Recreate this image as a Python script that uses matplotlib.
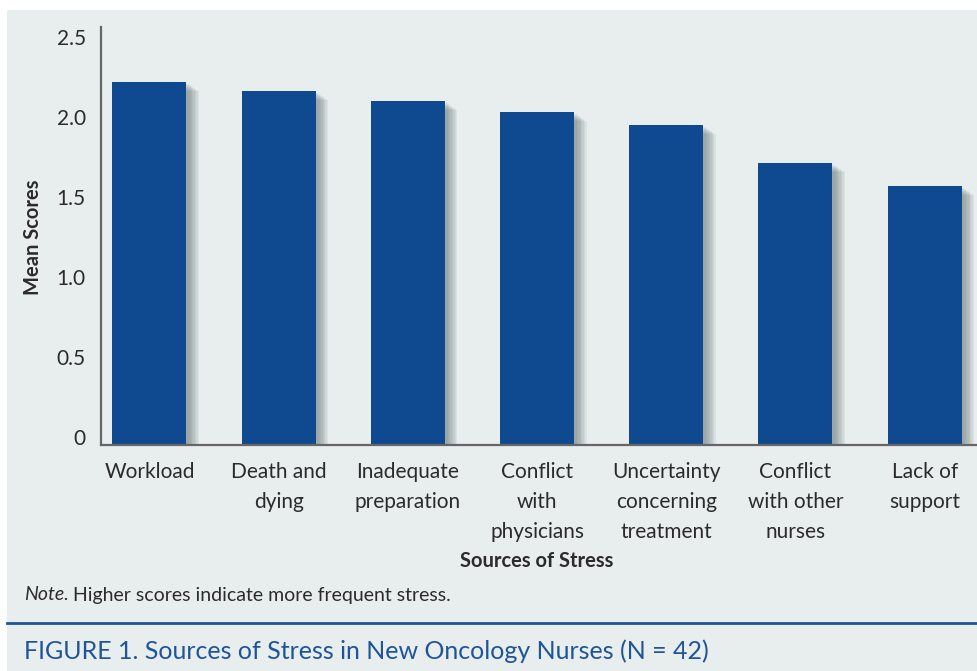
import matplotlib
matplotlib.use('Agg')
from matplotlib import pyplot as plt
from matplotlib import patheffects, transforms
from matplotlib.patches import Rectangle
from matplotlib.lines import Line2D
import numpy as np

sources = ['Workload', 'Death and\ndying', 'Inadequate\npreparation',
           'Conflict\nwith\nphysicians', 'Uncertainty\nconcerning\ntreatment',
           'Conflict\nwith other\nnurses', 'Lack of\nsupport']
mean_scores = [2.27, 2.21, 2.15, 2.08, 2.00, 1.76, 1.62]
y_ticks = [0, 0.5, 1.0, 1.5, 2.0, 2.5]
y_ticklabels = ['0', '0.5', '1.0', '1.5', '2.0', '2.5']

bar_color = '#0f4a91'
panel_color = '#e8eeee'
caption_color = '#1f5598'
text_color = '#2b2b2b'

plt.rcParams['font.family'] = ['Lato', 'DejaVu Sans']

fig = plt.figure(figsize=(9.77, 6.71), dpi=100)
fig.patch.set_facecolor('white')

# light panel behind everything
fig.add_artist(Rectangle((7 / 977, 0), 1, 1 - 10 / 671, transform=fig.transFigure,
                         facecolor=panel_color, edgecolor='none', zorder=-10))

ax = fig.add_axes([101 / 977, 1 - 445 / 671, 1 - 101 / 977, (445 - 27) / 671])
ax.patch.set_visible(False)

x = np.arange(len(sources))

# soft drop shadow built from a few offset layers
shadow = [patheffects.SimplePatchShadow(offset=(d, -d * 0.7), shadow_rgbFace='#5f6a6c',
                                        alpha=0.09) for d in (2, 3, 4, 5, 6, 7, 8, 9)]
bars = ax.bar(x, mean_scores, width=0.573, color=bar_color, zorder=3)
for b in bars:
    b.set_path_effects(shadow + [patheffects.Normal()])

ax.set_xlim(-0.375, 6.405)
ax.set_ylim(0, 2.6125)

for side in ('top', 'right'):
    ax.spines[side].set_visible(False)
for side in ('left', 'bottom'):
    ax.spines[side].set_color('#666666')
    ax.spines[side].set_linewidth(1.6)
    ax.spines[side].set_zorder(4)

ax.set_yticks(y_ticks)
ax.set_yticklabels(y_ticklabels)
ax.tick_params(axis='y', length=0, pad=11, labelsize=15, labelcolor=text_color)
# labels sit a little above their ticks in the original
shift = transforms.ScaledTranslation(0, 8 / 100, fig.dpi_scale_trans)
for lab in ax.get_yticklabels():
    lab.set_transform(lab.get_transform() + shift)

ax.set_xticks(x)
ax.set_xticklabels(sources, linespacing=1.62)
ax.tick_params(axis='x', length=0, pad=12.5, labelsize=15, labelcolor=text_color)

fig.text(33 / 977, 1 - 237 / 671, 'Mean Scores', fontsize=14.5, fontweight='bold',
         color=text_color, rotation=90, ha='center', va='center')
fig.text(537 / 977, 1 - 561 / 671, 'Sources of Stress', fontsize=14.5, fontweight='bold',
         color=text_color, ha='center', va='center')

fig.text(24 / 977, 1 - 595 / 671, 'Note.', fontsize=14, style='italic',
         color=text_color, ha='left', va='center')
fig.text(73 / 977, 1 - 595 / 671, 'Higher scores indicate more frequent stress.',
         fontsize=14, color=text_color, ha='left', va='center')

fig.add_artist(Line2D([7 / 977, 1], [1 - 623 / 671] * 2, transform=fig.transFigure,
                      color=caption_color, lw=2))
fig.text(24 / 977, 1 - 651 / 671, 'FIGURE 1. Sources of Stress in New Oncology Nurses (N = 42)',
         fontsize=18, color=caption_color, ha='left', va='center')

fig.savefig('out.png', dpi=100, facecolor=fig.get_facecolor())
